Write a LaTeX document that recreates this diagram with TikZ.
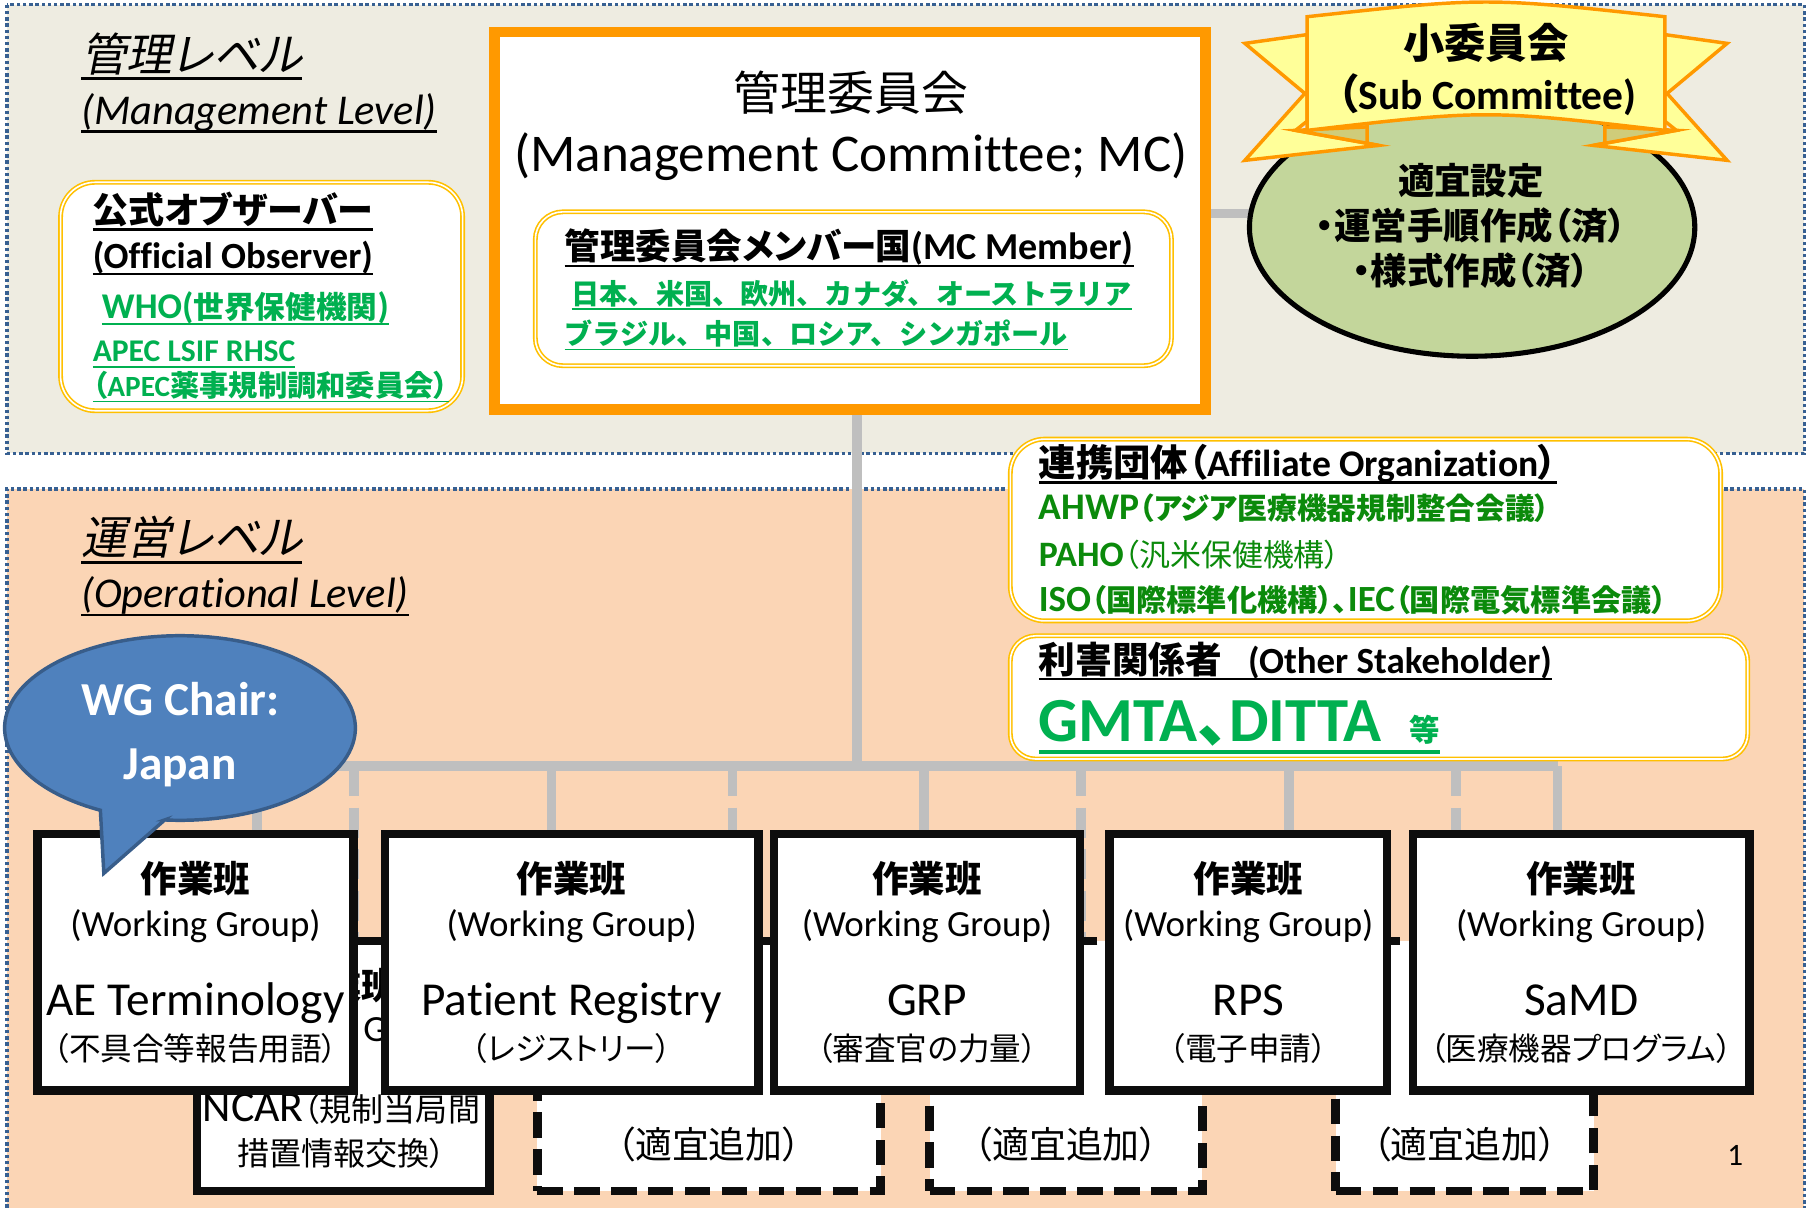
\documentclass[tikz,border=0pt]{standalone}
\usepackage{fontspec}
\setmainfont{Carlito}[Ligatures=NoCommon]
\newfontfamily\jpfont{Noto Sans CJK JP}[RawFeature=+palt, AutoFakeSlant=0.2]
\newfontfamily\jpwide{Noto Sans CJK JP}
\usetikzlibrary{positioning, fit, shapes.geometric}

\definecolor{zoneblue}{HTML}{376092}
\definecolor{mgmtbg}{HTML}{EEECE1}
\definecolor{opbg}{HTML}{FBD5B5}
\definecolor{mcorange}{HTML}{FF9900}
\definecolor{boxyellow}{HTML}{FFC000}
\definecolor{brightgreen}{HTML}{00B050}
\definecolor{darkgreen}{HTML}{0B8A0B}
\definecolor{linkgrey}{HTML}{BFBFBF}
\definecolor{scgreen}{HTML}{C3D69B}
\definecolor{ribbonfill}{HTML}{FFFF99}
\definecolor{ribbonfold}{HTML}{CFCC7A}
\definecolor{chairblue}{HTML}{4F81BD}
\definecolor{chairedge}{HTML}{385D8A}

\newcommand\fsz[1]{\fontsize{#1}{#1}\selectfont}
\newcommand\jtxt[2]{{\jpfont\fsz{#1}#2}}
\newcommand\undl[1]{\leavevmode\setbox0\hbox{#1}\rlap{\rule[-0.19em]{\wd0}{0.06em}}\box0}

\pgfdeclarelayer{zonelayer}
\pgfdeclarelayer{linklayer}
\pgfsetlayers{zonelayer,linklayer,main}

\begin{document}
\begin{tikzpicture}[x=0.5pt, y=-0.5pt,
    zone/.style={draw=zoneblue, line width=1.5pt, dash pattern=on 1.5pt off 1.2pt},
    ybox/.style={draw=boxyellow, line width=0.7pt, double=white, double distance=0.7pt,
                 fill=white, rounded corners=14pt, inner sep=0pt},
    mcbox/.style={draw=mcorange, line width=4.75pt, fill=white, inner sep=0pt},
    lbl/.style={inner sep=0pt, anchor=base},
    lbll/.style={inner sep=0pt, anchor=base west},
    link/.style={draw=linkgrey, line width=4.2pt},
    wgbox/.style={draw=black!95, line width=3.75pt, fill=white, inner sep=0pt},
    addbox/.style={wgbox, dash pattern=on 11pt off 5pt},
    ribbon/.style={draw=mcorange, line width=1.5pt, fill=ribbonfill},
    chair/.style={draw=chairedge, line width=1.5pt, fill=chairblue}]
  \useasboundingbox (0,0) rectangle (1568,1047);

  % management / operational levels
  \begin{pgfonlayer}{zonelayer}
    \fill[mgmtbg] (6,4) rectangle (1564,393);
    \draw[zone] (6,4) rectangle (1564,393);
    \fill[opbg] (6,424) rectangle (1564,1047);
    \draw[zone] (6,1047) -- (6,424) -- (1564,424) -- (1564,1047);
  \end{pgfonlayer}
  \node[lbll] (mgmtj) at (70,62) {\fsz{19.8}\itshape\undl{\jtxt{19.8}{管理レベル}}};
  \node[lbll] (mgmte) at (70,108) {\fsz{18.4}\itshape\undl{(Management Level)}};
  \node[lbll] (opj) at (70,481) {\fsz{19.8}\itshape\undl{\jtxt{19.8}{運営レベル}}};
  \node[lbll] (ope) at (70,527) {\fsz{18.4}\itshape\undl{(Operational Level)}};

  % official observer
  \node[ybox, rounded corners=15pt, fit={(52.5,158) (401,356)}] (obs) {};
  \node[lbll] (obs1) at (80,194) {\fsz{15.6}\bfseries\undl{\jtxt{15.6}{公式オブザーバー}}};
  \node[lbll] (obs2) at (80,232.5) {\fsz{16}\bfseries\undl{(Official Observer)}};
  \node[lbll, text=brightgreen] (obs3) at (88,276) {\fsz{15.7}\bfseries\undl{WHO(\jtxt{13.3}{世界保健機関})}};
  \node[lbll, text=brightgreen] (obs4) at (80,313.5) {\fsz{13.7}\bfseries\undl{APEC LSIF RHSC}};
  \node[lbll, text=brightgreen] (obs5) at (80,344) {\fsz{12.7}\bfseries\undl{\jtxt{12.7}{（}APEC\jtxt{12.7}{薬事規制調和委員会）}}};

  % management committee
  \node[mcbox, fit={(428.75,27.75) (1045.25,355.25)}] (mc) {};
  \node[lbl] (mcj) at (737.5,96) {\jtxt{20.3}{管理委員会}};
  \node[lbl] (mce) at (737.5,149) {\fsz{23}(Management Committee; MC)};
  \node[ybox, rounded corners=12pt, fit={(464,183.6) (1015.4,317)}] (mem) {};
  \node[lbll] (mem1) at (489,225) {\fsz{16.5}\bfseries\undl{\jtxt{15.4}{管理委員会メンバー国}(MC Member)}};
  \node[lbll, text=brightgreen] (mem2) at (495,264) {\fsz{12.2}\bfseries\undl{\jpwide 日本、米国、欧州、カナダ、オーストラリア}};
  \node[lbll, text=brightgreen] (mem3) at (489,299) {\fsz{12.2}\bfseries\undl{\jpwide ブラジル、中国、ロシア、シンガポール}};

  % sub committee
  \node[ellipse, draw=black, line width=2.2pt, fill=scgreen, inner sep=0pt,
        minimum width=193pt, minimum height=111.8pt] (sc) at (1276,197) {};
  \node[lbl] (sc1) at (1275,168.5) {\bfseries\jtxt{15.8}{適宜設定}};
  \node[lbl] (sc2) at (1275,207.5) {\bfseries\jtxt{15.8}{・運営手順作成（済）}};
  \node[lbl] (sc3) at (1275,246.5) {\bfseries\jtxt{15.8}{・様式作成（済）}};
  \draw[ribbon] (1079,37.6) -- (1131,81) -- (1079,139) -- (1195,126) -- (1123,113)
    -- (1133,105) -- (1133,30) -- cycle;
  \draw[ribbon] (1497,37.6) -- (1445,81) -- (1497,139) -- (1381,126) -- (1453,113)
    -- (1443,105) -- (1443,30) -- cycle;
  \draw[ribbon, fill=ribbonfold] (1123,113) -- (1185,110) -- (1185,126) -- (1195,126) -- cycle;
  \draw[ribbon, fill=ribbonfold] (1453,113) -- (1391,110) -- (1391,126) -- (1381,126) -- cycle;
  \draw[ribbon] (1133,14.5) .. controls (1288,-2.5) .. (1443,14.5) -- (1443,113)
    .. controls (1288,95) .. (1133,113) -- cycle;
  \node[lbl] (sub1) at (1288,51) {\bfseries\jtxt{17.9}{小委員会}};
  \node[lbl] (sub2) at (1289,95) {\fsz{18}\bfseries\jtxt{18}{（}Sub Committee)};

  % affiliates and stakeholders
  \node[ybox, rounded corners=15pt, fit={(875.7,380.6) (1491.4,538.2)}] (aff) {};
  \node[lbll] (aff1) at (900,413) {\fsz{16.3}\bfseries\undl{\jtxt{16.2}{連携団体（}Affiliate Organization\jtxt{16.2}{）}}};
  \node[lbll, text=darkgreen] (aff2) at (900,450.5) {\fsz{16.3}\bfseries AHWP\jtxt{12.9}{（アジア医療機器規制整合会議）}};
  \node[lbll, text=darkgreen] (aff3) at (900,491) {\fsz{15.5}\bfseries PAHO\mdseries\jtxt{13.4}{（汎米保健機構）}};
  \node[lbll, text=darkgreen] (aff4) at (900,530) {\fsz{16}\bfseries ISO\jtxt{13.1}{（国際標準化機構）、}IEC\jtxt{13.1}{（国際電気標準会議）}};
  \node[ybox, rounded corners=11pt, fit={(875.7,551.1) (1514.9,657.9)}] (stk) {};
  \node[lbll] (stk1) at (900,583.5) {\fsz{16}\bfseries\undl{\jtxt{15.9}{利害関係者}\hspace{0.7em}(Other Stakeholder)}};
  \node[lbll, text=brightgreen] (stk2) at (900,643) {\fsz{27.2}\bfseries\undl{GMTA\jtxt{27.2}{、}DITTA\hspace{0.45em}\jtxt{13.2}{等}}};

  % groups added later (behind)
  \node[wgbox, fit={(170.75,815.75) (424.25,1032.25)}] (bk1) {};
  \node[lbl] (bkj1) at (297.5,866) {\bfseries\jtxt{15.8}{作業班}};
  \node[lbl] (bke1) at (297.5,903) {\fsz{16}(Working Group)};
  \node[lbl] (ncar1) at (296,972.5) {\fsz{19}NCAR\jtxt{13.9}{（規制当局間}};
  \node[lbl] (ncar2) at (296,1010) {\jtxt{13.9}{措置情報交換）}};
  \foreach \l/\r/\n in {462/767/2, 802/1046/3, 1154/1385/4}{
    \pgfmathsetmacro\lx{\l+3.75}
    \pgfmathsetmacro\rx{\r-3.75}
    \pgfmathsetmacro\cx{(\l+\r)/2}
    \node[addbox, fit={(\lx,815.75) (\rx,1032.25)}] (bk\n) {};
    \node[lbl] (bkt\n) at (\cx,1004) {\jtxt{16}{（適宜追加）}};
  }

  % working groups
  \foreach \l/\r/\n/\en/\jn in {29/310/1/AE Terminology/（不具合等報告用語）,
      330/661/2/Patient Registry/（レジストリー）, 667/940/3/GRP/（審査官の力量）,
      958/1206/4/RPS/（電子申請）, 1221/1520/5/SaMD/（医療機器プログラム）}{
    \pgfmathsetmacro\lx{\l+3.75}
    \pgfmathsetmacro\rx{\r-3.75}
    \pgfmathsetmacro\cx{(\l+\r)/2}
    \node[wgbox, fit={(\lx,722.75) (\rx,945.25)}] (wg\n) {};
    \node[lbl] (wgj\n) at (\cx,774) {\bfseries\jtxt{15.8}{作業班}};
    \node[lbl] (wge\n) at (\cx,812) {\fsz{16}(Working Group)};
    \node[lbl] (wgn\n) at (\cx,880) {\fsz{20.5}\en};
    \node[lbl] (wgjn\n) at (\cx,919) {\jtxt{13.7}{\jn}};
  }

  % connectors
  \begin{pgfonlayer}{linklayer}
    \coordinate (scjoin) at ([yshift=3.2pt]mc.east);
    \draw[link] (scjoin) -- (scjoin -| sc.center);
    \coordinate (hub) at (743,664);
    \draw[link] (hub |- mc.south) -- (hub);
    \foreach \x/\n in {223/1, 478/2, 801/3, 1117/4, 1350/5}{
      \coordinate (bus\n) at (\x,664);
      \draw[link] (bus\n) -- (bus\n |- wg\n.north);
    }
    \draw[link] (bus1) -- (bus5);
    \foreach \x/\n in {307/1, 635/2, 937/3, 1262/4}{
      \coordinate (dd\n) at (\x,664);
      \draw[link, dash pattern=on 13pt off 5pt] (dd\n) -- (dd\n |- bk\n.north);
    }
  \end{pgfonlayer}

  % WG chair
  \draw[chair] (142.8,710.7) -- (90,757) -- (87,702.3)
    arc[start angle=117, end angle=455, x radius=152, y radius=80] -- cycle;
  \node[lbl, text=white] (chair1) at (156.5,620) {\fsz{20.5}\bfseries WG Chair:};
  \node[lbl, text=white] (chair2) at (156,676) {\fsz{20.5}\bfseries Japan};

  \node[lbl] (pgno) at (1504,1010) {\fsz{13.5}1};
\end{tikzpicture}
\end{document}
